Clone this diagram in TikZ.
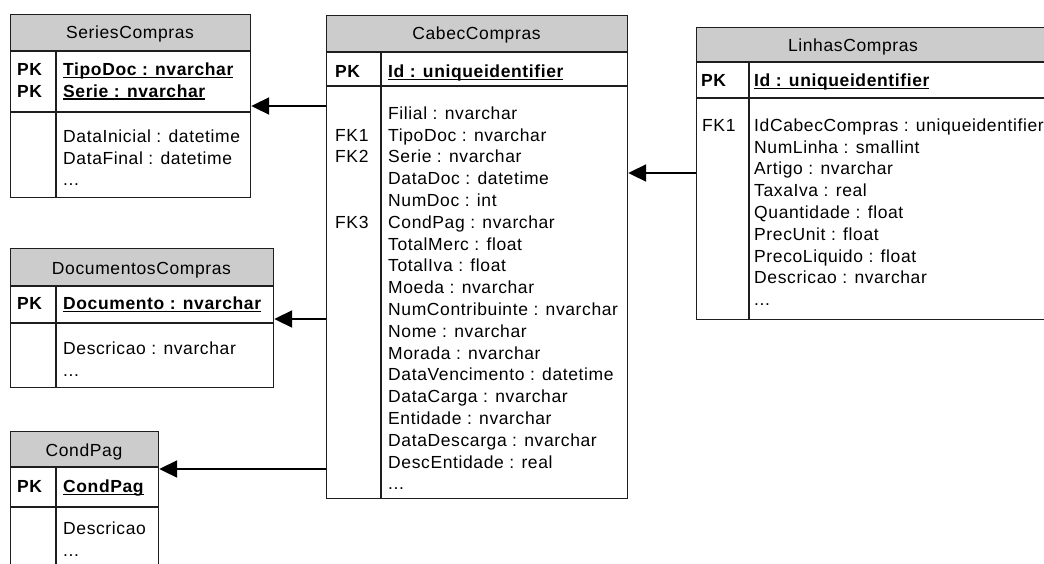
\documentclass[tikz,border=0pt]{standalone}
\usepackage{fontspec}
\setmainfont{Liberation Sans}[LetterSpace=3.5]
\usetikzlibrary{arrows.meta}

\definecolor{hdrgray}{HTML}{CCCCCC}
\definecolor{edgegray}{HTML}{1E1E1E}

% underlined primary-key attribute
\newcommand\pkattr[1]{\setbox0\hbox{#1}\rlap{\rule[-2.8pt]{\wd0}{1.4pt}}\box0}

\begin{document}
\begin{tikzpicture}[x=1pt,y=-1pt,
  tbox/.style={draw=edgegray,line width=1.2pt,inner sep=0pt,anchor=north west},
  rule/.style={draw=edgegray,line width=1.2pt},
  hdr/.style={fill=hdrgray},
  % text blocks are placed by the baseline of their first line
  txt/.style={inner sep=0pt,anchor=north west,yshift=15.26pt,align=left,
    font=\fontsize{17.5}{21.8}\selectfont},
  bold/.style={txt,font=\fontsize{17.5}{21.8}\selectfont\bfseries},
  title/.style={inner sep=0pt,anchor=base,font=\fontsize{17.5}{21.8}\selectfont},
  fk/.style={line width=2pt,-{Triangle[length=18pt,width=17pt]}}]

\clip (0,0) rectangle (1044,563);
\fill[white] (0,0) rectangle (1044,563);

% ---------- SeriesCompras ----------
\fill[hdr] (10,14) rectangle (250,51);
\node[tbox,minimum width=240pt,minimum height=183pt] (series) at (10,14) {};
\draw[rule] (10,51) -- (250,51) (10,112) -- (250,112) (56,51) -- (56,197);
\node[title] (seriesT) at (130,38) {SeriesCompras};
\node[bold] (seriesK) at (17,75) {\strut PK\\PK};
\node[bold] (seriesP) at (63,75) {\strut\pkattr{TipoDoc : nvarchar}\\\pkattr{Serie : nvarchar}};
\node[txt] (seriesF) at (63,142) {\strut DataInicial : datetime\\DataFinal : datetime\\...};

% ---------- DocumentosCompras ----------
\fill[hdr] (10,248) rectangle (273,286);
\node[tbox,minimum width=263pt,minimum height=139pt] (docs) at (10,248) {};
\draw[rule] (10,286) -- (273,286) (10,323) -- (273,323) (56,286) -- (56,387);
\node[title] (docsT) at (141.5,274) {DocumentosCompras};
\node[bold] (docsK) at (17,309) {\strut PK};
\node[bold] (docsP) at (63,309) {\strut\pkattr{Documento : nvarchar}};
\node[txt] (docsF) at (63,354) {\strut Descricao : nvarchar\\...};

% ---------- CondPag ----------
\fill[hdr] (10,431) rectangle (158,467);
\node[tbox,minimum width=148pt,minimum height=180pt] (cond) at (10,431) {};
\draw[rule] (10,467) -- (158,467) (10,507) -- (158,507) (56,467) -- (56,611);
\node[title] (condT) at (84,456) {CondPag};
\node[bold] (condK) at (17,492) {\strut PK};
\node[bold] (condP) at (63,492) {\strut\pkattr{CondPag}};
\node[txt] (condF) at (63,534) {\strut Descricao\\...};

% ---------- CabecCompras ----------
\fill[hdr] (326,15) rectangle (627,52);
\node[tbox,minimum width=301pt,minimum height=483pt] (cabec) at (326,15) {};
\draw[rule] (326,52) -- (627,52) (326,86) -- (627,86) (381,52) -- (381,498);
\node[title] (cabecT) at (476.5,39) {CabecCompras};
\node[bold] (cabecK) at (335,77) {\strut PK};
\node[bold] (cabecP) at (388,77) {\strut\pkattr{Id : uniqueidentifier}};
\node[txt] (cabecFK1) at (335,140.8) {\strut FK1};
\node[txt] (cabecFK2) at (335,162.6) {\strut FK2};
\node[txt] (cabecFK3) at (335,228) {\strut FK3};
\node[txt] (cabecF) at (388,119) {\strut Filial : nvarchar\\TipoDoc : nvarchar\\Serie : nvarchar\\
  DataDoc : datetime\\NumDoc : int\\CondPag : nvarchar\\TotalMerc : float\\
  TotalIva : float\\Moeda : nvarchar\\NumContribuinte : nvarchar\\Nome : nvarchar\\
  Morada : nvarchar\\DataVencimento : datetime\\DataCarga : nvarchar\\
  Entidade : nvarchar\\DataDescarga : nvarchar\\DescEntidade : real\\...};

% ---------- LinhasCompras ----------
\fill[hdr] (696,27) rectangle (1100,62);
\node[tbox,minimum width=404pt,minimum height=292pt] (linhas) at (696,27) {};
\draw[rule] (696,62) -- (1100,62) (696,98) -- (1100,98) (749,62) -- (749,319);
\node[title] (linhasT) at (853,51) {LinhasCompras};
\node[bold] (linhasK) at (701,86) {\strut PK};
\node[bold] (linhasP) at (754,86) {\strut\pkattr{Id : uniqueidentifier}};
\node[txt] (linhasFK1) at (702,131) {\strut FK1};
\node[txt] (linhasF) at (754,131) {\strut IdCabecCompras : uniqueidentifier\\NumLinha : smallint\\
  Artigo : nvarchar\\TaxaIva : real\\Quantidade : float\\PrecUnit : float\\
  PrecoLiquido : float\\Descricao : nvarchar\\...};

% ---------- foreign-key relations ----------
\draw[fk] (cabec.west |- 0,106) -- (series.east |- 0,106);
\draw[fk] (cabec.west |- 0,319) -- (docs.east |- 0,319);
\draw[fk] (cabec.west |- 0,469) -- (cond.east |- 0,469);
\draw[fk] (linhas.west |- 0,173) -- (cabec.east |- 0,173);
\end{tikzpicture}
\end{document}
